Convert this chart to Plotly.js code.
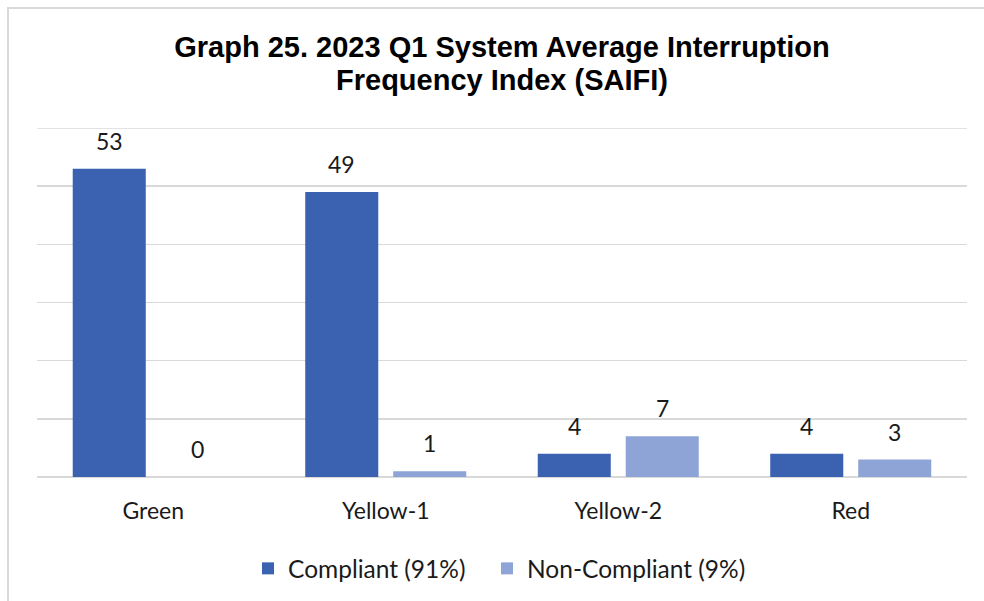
<!DOCTYPE html>
<html>
<head>
<meta charset="utf-8">
<script src="https://cdn.plot.ly/plotly-3.0.1.min.js"></script>
<style>
  html, body { margin: 0; padding: 0; background: #fff; }
  #wrap { position: relative; width: 984px; height: 601px; overflow: hidden; }
  #frame { position: absolute; left: 7px; top: 7px; width: 1000px; height: 700px;
           border-left: 2px solid #d9d9d9; border-top: 2px solid #d9d9d9; }
  #chart { position: absolute; left: 0; top: 0; width: 984px; height: 601px; }
</style>
</head>
<body>
<div id="wrap">
  <div id="frame"></div>
  <div id="chart"></div>
</div>
<script>
const categories = ["Green", "Yellow-1", "Yellow-2", "Red"];
const compliant = [53, 49, 4, 4];
const nonCompliant = [0, 1, 7, 3];
const seriesNames = ["Compliant (91%)", "Non-Compliant (9%)"];
const titleLine1 = "Graph 25. 2023 Q1 System Average Interruption";
const titleLine2 = "Frequency Index (SAIFI)";
const yMax = 60;

const labelFont = { family: "Lato, 'Open Sans', sans-serif", size: 23, color: "#1a1a1a" };
const legendFont = { family: "Lato, 'Open Sans', sans-serif", size: 24.5, color: "#1a1a1a" };
const titleFont = { family: "'Liberation Sans', Arial, sans-serif", size: 29, color: "#000", weight: "bold" };
const seriesColors = ["#3b62b1", "#8ea3d6"];
const seriesValues = [compliant, nonCompliant];
const legendIds = ["legend", "legend2"];

const traces = seriesValues.map((vals, i) => ({
  type: "bar", name: seriesNames[i], x: categories, y: vals,
  marker: { color: seriesColors[i] },
  legend: legendIds[i],
  hoverinfo: "x+y"
}));

// data labels placed via the axes at each bar value
const barOffset = [-44, 44];
const annotations = [];
seriesValues.forEach((vals, i) => {
  vals.forEach((v, j) => {
    annotations.push({
      x: categories[j], y: v, xref: "x", yref: "y",
      text: String(v), showarrow: false,
      xshift: barOffset[i], yshift: 12, yanchor: "bottom",
      font: labelFont
    });
  });
});
annotations.push({
  text: titleLine2, showarrow: false, xref: "paper", yref: "paper",
  x: 0.5, xanchor: "center", y: (477 - 80) / 349, yanchor: "middle",
  font: titleFont
});

const legendBase = {
  orientation: "h", xanchor: "left", y: -0.262, yanchor: "middle",
  font: legendFont, bgcolor: "rgba(0,0,0,0)"
};

const layout = {
  width: 984, height: 601,
  margin: { l: 37, r: 17, t: 128, b: 124, autoexpand: false },
  paper_bgcolor: "rgba(0,0,0,0)",
  plot_bgcolor: "rgba(0,0,0,0)",
  title: {
    text: titleLine1,
    font: titleFont,
    x: 0.5, xanchor: "center", xref: "paper",
    y: 1 - 47 / 601, yanchor: "middle", yref: "container"
  },
  barmode: "group",
  bargap: 0.243,
  bargroupgap: 0.17,
  showlegend: true,
  legend: Object.assign({}, legendBase, { x: 0.2269 }),
  legend2: Object.assign({}, legendBase, { x: 0.4839 }),
  xaxis: {
    type: "category",
    showgrid: false, zeroline: false, showline: false,
    ticks: "outside", ticklen: 13, tickcolor: "rgba(0,0,0,0)",
    tickfont: labelFont
  },
  yaxis: {
    range: [0, yMax], dtick: 10, tick0: 0,
    showgrid: true, gridcolor: "#d9d9d9", gridwidth: 1.5,
    zeroline: true, zerolinecolor: "#d9d9d9", zerolinewidth: 1.5,
    showticklabels: false, showline: false, ticks: ""
  },
  shapes: [{
    type: "line", xref: "paper", yref: "y", x0: 0, x1: 1, y0: yMax, y1: yMax,
    line: { color: "#d9d9d9", width: 1.5 }, layer: "below"
  }],
  annotations: annotations,
  font: labelFont
};

Plotly.newPlot("chart", traces, layout, { displayModeBar: false, staticPlot: true });
</script>
</body>
</html>
